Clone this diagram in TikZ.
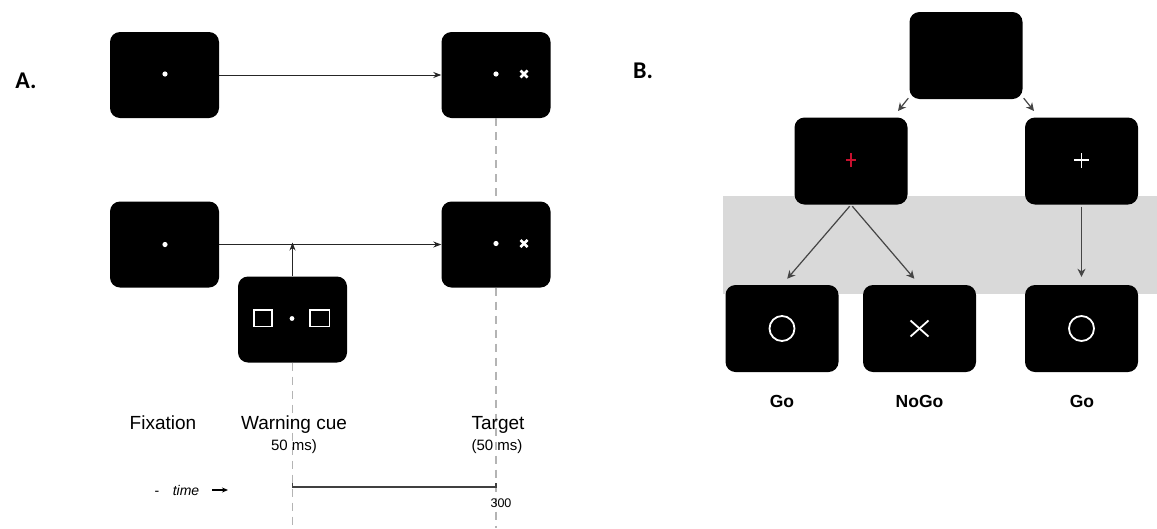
\documentclass[tikz,border=0pt]{standalone}
\usepackage{fontspec}
\setmainfont{Liberation Sans}
\newfontfamily\calib{Carlito}
\usetikzlibrary{arrows.meta}
\definecolor{bandgray}{HTML}{D9D9D9}
\definecolor{dashgray}{HTML}{B4B4B4}
\definecolor{arrowgray}{HTML}{454545}
\definecolor{crossred}{HTML}{C8102E}
\begin{document}
\begin{tikzpicture}[x=1pt,y=-1pt,
  scrA/.style={fill=black, rounded corners=10pt, minimum width=109pt, minimum height=86pt, inner sep=0pt},
  scrB/.style={fill=black, rounded corners=10pt, minimum width=113pt, minimum height=87pt, inner sep=0pt},
  arrA/.style={draw=black!85, line width=1pt, -{Stealth[length=8pt,width=6pt]}},
  arrB/.style={draw=arrowgray, line width=1.2pt, -{Stealth[length=8pt,width=8pt,inset=2.5pt]}},
  dashline/.style={draw=dashgray, line width=1.2pt, dash pattern=on 8pt off 6pt},
  lab/.style={font=\fontsize{19}{22}\selectfont, inner sep=0pt, anchor=base},
  sublab/.style={font=\fontsize{15}{18}\selectfont, inner sep=0pt, anchor=base},
  golab/.style={font=\fontsize{17.5}{20}\selectfont\bfseries, inner sep=0pt, anchor=base},
  panlab/.style={font=\calib\fontsize{24}{27}\selectfont\bfseries, inner sep=0pt, anchor=base},
  dotw/.style={fill=white},
  markw/.style={draw=white, line width=1.8pt}
]
\useasboundingbox (0,0) rectangle (1157,528);
\coordinate (bot) at (0,528);

% ---------------- Panel A ----------------
\node[panlab] (labA) at (26,88) {A.};

\node[scrA] (f1) at (164.5,75) {};
\node[scrA] (t1) at (496,75) {};
\node[scrA] (f2) at (164.5,244.5) {};
\node[scrA] (t2) at (496,244.5) {};
\node[scrA] (cue) at (292.5,319.5) {};

% dashed time markers
\draw[dashline] (t1.south) -- (t2.north);
\draw[dashline] (t2.south) -- (t2.south |- bot);
\draw[dashline] (cue.south) -- (cue.south |- bot);

% arrows
\draw[arrA] (f1.east) -- (t1.west);
\draw[arrA] (f2.east) -- (t2.west);
\coordinate (cuehit) at (cue.north |- f2.east);
\draw[arrA] (cue.north) -- ([yshift=2pt]cuehit);

% screen contents
\fill[dotw] ([xshift=0.5pt,yshift=1pt]f1.center) circle (2.6pt);
\fill[dotw] ([xshift=0.5pt]f2.center) circle (2.6pt);
\foreach \t in {t1,t2}{
  \fill[dotw] ([yshift=1pt]\t.center) circle (2.6pt);
  \draw[draw=white, line width=2.8pt] ([xshift=24.5pt,yshift=-2.5pt]\t.center) -- ([xshift=31.5pt,yshift=4.5pt]\t.center);
  \draw[draw=white, line width=2.8pt] ([xshift=24.5pt,yshift=4.5pt]\t.center) -- ([xshift=31.5pt,yshift=-2.5pt]\t.center);
}
\fill[dotw] ([xshift=-0.5pt,yshift=1pt]cue.center) circle (2.4pt);
\draw[draw=white, line width=1.7pt] ([xshift=-38.5pt,yshift=-7pt]cue.center) rectangle ([xshift=-20.5pt,yshift=9.5pt]cue.center);
\draw[draw=white, line width=1.7pt] ([xshift=17.5pt,yshift=-7pt]cue.center) rectangle ([xshift=37pt,yshift=9.5pt]cue.center);

% labels
\node[lab] (fix) at (163,429) {Fixation};
\node[lab] (warn) at (294,429) {Warning cue};
\node[lab] (targ) at (498,429) {Target};
\node[sublab] (warnms) at (294,450) {50 ms)};
\node[sublab] (targms) at (497,450) {(50 ms)};

% time axis
\node[font=\fontsize{14}{16}\selectfont, inner sep=0pt, anchor=base] (tdash) at (157,495) {-};
\node[font=\fontsize{14}{16}\selectfont\itshape, inner sep=0pt, anchor=base] (tword) at (186,495) {time};
\coordinate (ta0) at (212,490);
\coordinate (ta1) at (228,490);
\draw[draw=black, line width=1.1pt, -{Stealth[length=6pt,width=5pt]}] (ta0) -- (ta1);
\coordinate (tl0) at (cue.south |- 0,487);
\coordinate (tl1) at (t2.south |- 0,487);
\draw[draw=black!75, line width=1.4pt] ([yshift=4pt]tl0) -- (tl0) -- (tl1) -- ([yshift=4pt]tl1);
\node[font=\fontsize{12.5}{14}\selectfont, inner sep=0pt, anchor=base] (t300) at (501,507) {300};

% ---------------- Panel B ----------------
\node[panlab] (labB) at (643,78) {B.};
\fill[bandgray] (723,196) rectangle (1157,294);

\node[scrB] (top) at (966,55.5) {};
\node[scrB] (ml) at (851,161) {};
\node[scrB] (mr) at (1081.5,161) {};
\node[scrB] (bl) at (782,328.5) {};
\node[scrB] (bn) at (919.5,328.5) {};
\node[scrB] (br) at (1081.5,328.5) {};

\coordinate (sl) at (898,111);
\coordinate (sr) at (1034,111);
\draw[arrB] ([xshift=-1pt,yshift=1pt]top.south west) -- (sl);
\draw[arrB] ([xshift=1pt,yshift=1pt]top.south east) -- (sr);

\draw[arrB, shorten <=2pt, shorten >=8pt] (ml.south) -- (bl.north);
\draw[arrB, shorten <=2pt, shorten >=8pt] (ml.south) -- (bn.north);
\draw[arrB, shorten <=2pt, shorten >=8pt] (mr.south) -- (br.north);

% screen contents
\draw[draw=crossred, line width=1.3pt] ([xshift=-5pt,yshift=1pt]ml.center) -- ([xshift=5pt,yshift=1pt]ml.center);
\draw[draw=crossred, line width=1.3pt] ([yshift=-6pt]ml.center) -- ([yshift=8pt]ml.center);
\draw[draw=white, line width=1.5pt] ([xshift=-7.5pt,yshift=1pt]mr.center) -- ([xshift=7.5pt,yshift=1pt]mr.center);
\draw[draw=white, line width=1.5pt] ([yshift=-6.5pt]mr.center) -- ([yshift=8.5pt]mr.center);

\draw[markw] (bl.center) circle (12.5pt);
\draw[markw] (br.center) circle (12.5pt);
\draw[markw] ([xshift=-9pt,yshift=-8pt]bn.center) -- ([xshift=9pt,yshift=8pt]bn.center);
\draw[markw] ([xshift=-9pt,yshift=8pt]bn.center) -- ([xshift=9pt,yshift=-8pt]bn.center);

\node[golab] (go1) at (782,407) {Go};
\node[golab] (nogo) at (919.5,407) {NoGo};
\node[golab] (go2) at (1082,407) {Go};
\end{tikzpicture}
\end{document}
